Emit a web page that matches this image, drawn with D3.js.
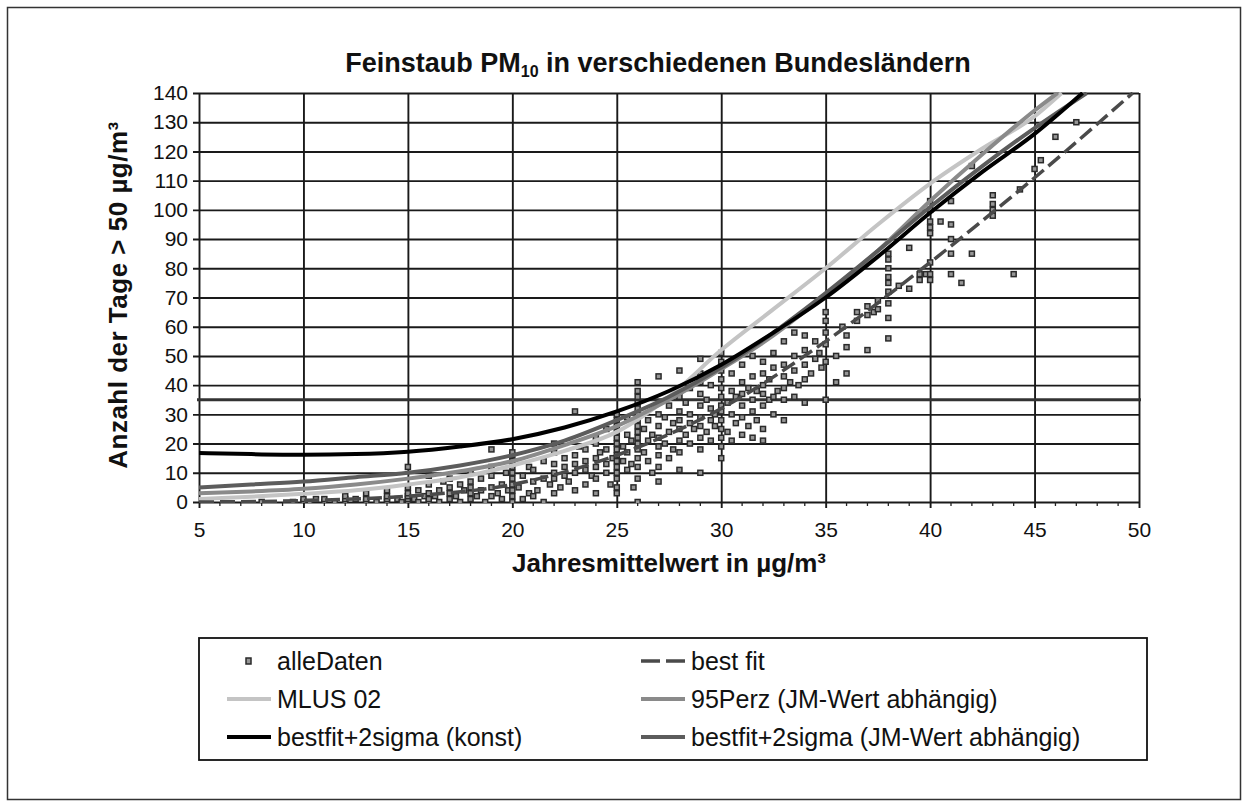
<!DOCTYPE html>
<html>
<head>
<meta charset="utf-8">
<script src="https://cdn.jsdelivr.net/npm/d3@7"></script>
<style>
body{margin:0;background:#fff;}
svg text{font-family:"Liberation Sans",Arial,sans-serif;fill:#111;}
</style>
</head>
<body>
<svg width="1249" height="807"></svg>
<script>
var xTicks = [5,10,15,20,25,30,35,40,45,50];
var yTicks = [0,10,20,30,40,50,60,70,80,90,100,110,120,130,140];
var limitLine = 35;

// curves: [Jahresmittelwert, Anzahl Tage]
var bestFit = [[5,0],[10,0.5],[15,2],[20,6],[25,16],[30,32],[35,55],[40,82],[45,111],[49.7,140]];
var mlus02 = [[5,1],[7.5,1.8],[10,2.8],[12.5,4],[15,6],[17.5,8.5],[20,12.5],[22.5,17.5],[25,24],[27.5,36],[30,52],[32.5,66],[35,80],[37.5,95],[40,109],[42.5,121],[45,132],[46.3,140]];
var perz95 = [[5,3],[7.5,3.6],[10,4.5],[12.5,6],[15,8],[17.5,10.5],[20,14],[22.5,19.5],[25,26],[27.5,35],[30,45.5],[32.5,57],[35,71],[37.5,86],[40,103],[42.5,119],[45,134],[46.1,140]];
var sigmaKonst = [[5,16.8],[7.5,16.4],[10,16.2],[12.5,16.4],[15,17.2],[17.5,19],[20,21.5],[22.5,25.5],[25,31],[27.5,38],[30,47],[32.5,58],[35,70],[37.5,84],[40,99],[42.5,113],[45,126],[47.3,140]];
var sigmaJM = [[5,5],[7.5,6],[10,7],[12.5,8.5],[15,10],[17.5,12.5],[20,16],[22.5,21],[25,28],[27.5,36],[30,46],[32.5,58],[35,71.5],[37.5,86],[40,101],[42.5,115],[45,128],[47.5,140]];

var alleDaten = [
[8,0],[9.5,0],[10,0],[10,1],[10.3,0],[10.6,1],[11,0],[11,1],[11.5,0],[12,0],[12,1],[12,2],[12.5,1],[13,0],[13,1],[13,3],[13.5,0],[14,0],[14,1],[14,2],[14,4],[14.5,1],[14.7,0],[15,0],[15,1],[15,2],[15,3],[15,5],[15,12],
[15.3,1],[15.5,0],[15.5,4],[15.8,2],[16,0],[16,1],[16,3],[16,6],[16,9],[16.3,2],[16.5,4],[16.5,0],[16.7,7],[17,1],[17,3],[17,5],[17,8],[17.3,2],[17.5,0],[17.5,6],[17.7,4],[18,1],[18,3],[18,5],[18,7],[18,10],[18.3,2],[18.5,4],[18.5,8],[18.7,0],[19,2],[19,5],[19,9],[19,12],[19,18],[19.3,3],[19.5,6],[19.5,1],[19.7,10],[19.8,4],
[20,0],[20,2],[20,4],[20,6],[20,8],[20,10],[20,12],[20,14],[20,16],[20,17],
[20.3,5],[20.5,1],[20.5,9],[20.8,3],[20.8,12],[21,2],[21,7],[21,11],[21.2,4],[21.5,0],[21.5,8],[21.5,14],[21.8,6],[22,3],[22,8],[22,10],[22,13],[22,17],[22,20],[22.3,5],[22.5,9],[22.5,12],[22.5,15],[22.7,7],[23,4],[23,10],[23,13],[23,16],[23,31],[23.2,19],[23.5,6],[23.5,11],[23.5,14],[23.5,18],[23.8,9],[24,3],[24,8],[24,12],[24,15],[24,20],[24,22],[24.2,17],[24.5,10],[24.5,13],[24.5,18],[24.5,25],[24.7,6],[24.8,15],
[25,3],[25,5],[25,8],[25,10],[25,12],[25,14],[25,16],[25,18],[25,20],[25,22],[25,24],[25,26],[25,28],[25,30],
[25.3,14],[25.3,19],[25.5,11],[25.5,17],[25.5,23],[25.5,29],[25.7,13],[25.7,21],[25.8,5],
[26,0],[26,8],[26,12],[26,15],[26,18],[26,20],[26,22],[26,24],[26,26],[26,28],[26,30],[26,32],[26,34],[26,36],[26,38],[26,41],
[26.3,17],[26.3,25],[26.5,14],[26.5,21],[26.5,28],[26.7,10],[26.7,23],[27,7],[27,12],[27,16],[27,19],[27,22],[27,26],[27,30],[27,43],[27.3,20],[27.3,29],[27.5,15],[27.5,24],[27.5,33],[27.7,18],[27.7,27],[28,11],[28,17],[28,21],[28,25],[28,28],[28,31],[28,36],[28,45],[28.3,23],[28.3,34],[28.5,20],[28.5,27],[28.5,30],[28.5,39],[28.7,25],[29,10],[29,18],[29,22],[29,26],[29,29],[29,33],[29,37],[29,41],[29,44],[29,49],[29.3,24],[29.3,35],[29.5,21],[29.5,28],[29.5,32],[29.5,40],[29.7,26],[29.7,30],
[30,15],[30,19],[30,22],[30,25],[30,28],[30,31],[30,33],[30,36],[30,39],[30,42],[30,45],[30,48],[30,51],
[30.3,24],[30.3,34],[30.5,21],[30.5,30],[30.5,38],[30.5,44],[30.7,27],[30.7,36],[31,23],[31,29],[31,33],[31,37],[31,41],[31,47],[31.3,26],[31.3,39],[31.5,22],[31.5,31],[31.5,35],[31.5,43],[31.5,50],[31.7,28],[31.7,38],[32,21],[32,25],[32,33],[32,37],[32,40],[32,44],[32,48],[32.3,35],[32.3,42],[32.5,30],[32.5,36],[32.5,46],[32.5,51],[32.7,38],[33,28],[33,35],[33,39],[33,43],[33,47],[33,55],[33.3,41],[33.5,36],[33.5,45],[33.5,50],[33.5,58],[33.7,40],[34,34],[34,42],[34,47],[34,52],[34,57],[34.3,44],[34.5,49],[34.5,55],[34.7,51],[34.8,46],
[35,35],[35,48],[35,54],[35,58],[35,62],[35,65],
[35.5,41],[35.5,50],[35.8,60],[36,44],[36,53],[36,57],[36.5,62],[36.5,65],[37,52],[37,64],[37,67],[37.3,65],[37.5,69],[37.5,66],[38,56],[38,63],[38,68],[38,72],[38,75],[38,77],[38,80],[38,83],[38,85],[38.5,74],[39,73],[39,87],[39.5,76],[39.5,78],[39.8,78],[40,76],[40,78],[40,82],[40,92],[40,94],[40,96],[40,100],[40,103],
[40.5,96],[41,78],[41,85],[41,90],[41,95],[41,103],[41.5,75],[42,85],[42,115],[43,98],[43,100],[43,102],[43,105],[44,78],[44.3,107],[45,114],[45.3,117],[46,125],[47,130]
];

var series = [
  {name:"best fit", data:bestFit, color:"#4a4a4a", width:3.5, dash:"15,6"},
  {name:"MLUS 02", data:mlus02, color:"#c4c4c4", width:4, dash:null},
  {name:"95Perz (JM-Wert abhängig)", data:perz95, color:"#8a8a8a", width:4, dash:null},
  {name:"bestfit+2sigma (konst)", data:sigmaKonst, color:"#000", width:4, dash:null},
  {name:"bestfit+2sigma (JM-Wert abhängig)", data:sigmaJM, color:"#5c5c5c", width:4, dash:null}
];

var svg = d3.select("svg");
var L = 199, R = 1139, T = 93, B = 502;
var x = d3.scaleLinear().domain([5,50]).range([L,R]);
var y = d3.scaleLinear().domain([0,140]).range([B,T]);

// outer frame
svg.append("rect").attr("x",7.5).attr("y",7.5).attr("width",1233).attr("height",792)
  .attr("fill","none").attr("stroke","#333").attr("stroke-width",1.5);

// title
var title = svg.append("text").attr("x",658).attr("y",72).attr("text-anchor","middle")
  .attr("font-size",27).attr("font-weight","bold");
title.append("tspan").text("Feinstaub PM");
title.append("tspan").attr("font-size",16).attr("dy",5).text("10");
title.append("tspan").attr("dy",-5).text(" in verschiedenen Bundesländern");

// y grid + axis
var yAxis = svg.append("g").attr("transform","translate("+L+",0)")
  .call(d3.axisLeft(y).tickValues(yTicks).tickSizeInner(-(R-L)).tickSizeOuter(0).tickPadding(11));
yAxis.select(".domain").remove();
yAxis.selectAll(".tick line").attr("x1",-6).attr("stroke","#1a1a1a").attr("stroke-width",1.9);
yAxis.selectAll(".tick text").attr("font-size",21).attr("fill","#111");

// x grid + axis
var xAxis = svg.append("g").attr("transform","translate(0,"+B+")")
  .call(d3.axisBottom(x).tickValues(xTicks).tickSizeInner(-(B-T)).tickSizeOuter(0).tickPadding(20));
xAxis.select(".domain").remove();
xAxis.selectAll(".tick line").attr("y1",6).attr("stroke","#1a1a1a").attr("stroke-width",1.9);
xAxis.selectAll(".tick text").attr("font-size",21).attr("fill","#111");

// minor ticks on x axis
svg.append("g").selectAll("line").data(d3.range(5,51,1).filter(d=>d%5!=0)).join("line")
  .attr("x1",d=>x(d)).attr("x2",d=>x(d)).attr("y1",B).attr("y2",B+4)
  .attr("stroke","#222").attr("stroke-width",1.3);

// limit line 35 days
svg.append("line").attr("x1",L-2).attr("x2",R+2).attr("y1",y(limitLine)).attr("y2",y(limitLine))
  .attr("stroke","#333").attr("stroke-width",2.8);

// axis titles
svg.append("text").attr("transform","translate(127,295) rotate(-90)")
  .attr("text-anchor","middle").attr("font-size",26).attr("font-weight","bold")
  .attr("letter-spacing",0.5).text("Anzahl der Tage > 50 µg/m³");
svg.append("text").attr("x",(L+R)/2).attr("y",572).attr("text-anchor","middle")
  .attr("font-size",26).attr("font-weight","bold").text("Jahresmittelwert in µg/m³");

// clip
svg.append("clipPath").attr("id","plotclip").append("rect")
  .attr("x",L).attr("y",T-1).attr("width",R-L).attr("height",B-T+2);

var plot = svg.append("g").attr("clip-path","url(#plotclip)");

// scatter
plot.append("g").selectAll("rect").data(alleDaten).join("rect")
  .attr("x",d=>x(d[0])-2.5).attr("y",d=>y(d[1])-2.5)
  .attr("width",5).attr("height",5)
  .attr("fill","#969696").attr("stroke","#2a2a2a").attr("stroke-width",1.5);

var line = d3.line().x(d=>x(d[0])).y(d=>y(d[1])).curve(d3.curveMonotoneX);
var drawOrder = [1,2,4,3,0];
drawOrder.forEach(function(i){
  var s = series[i];
  plot.append("path").datum(s.data).attr("d",line)
    .attr("fill","none").attr("stroke",s.color).attr("stroke-width",s.width)
    .attr("stroke-dasharray",s.dash);
});

// legend
var lg = svg.append("g");
lg.append("rect").attr("x",199).attr("y",638).attr("width",948).attr("height",122)
  .attr("fill","#fff").attr("stroke","#111").attr("stroke-width",1.8);

var legendItems = [
  {name:"alleDaten", col:0, row:0, marker:true},
  {name:"best fit", col:1, row:0, s:series[0]},
  {name:"MLUS 02", col:0, row:1, s:series[1]},
  {name:"95Perz (JM-Wert abhängig)", col:1, row:1, s:series[2]},
  {name:"bestfit+2sigma (konst)", col:0, row:2, s:series[3]},
  {name:"bestfit+2sigma (JM-Wert abhängig)", col:1, row:2, s:series[4]}
];
var colX = [227, 641], rowY = [661, 699, 737];
legendItems.forEach(function(it){
  var gx = colX[it.col], gy = rowY[it.row];
  if(it.marker){
    lg.append("rect").attr("x",gx+19).attr("y",gy-3).attr("width",5).attr("height",6)
      .attr("fill","#969696").attr("stroke","#2a2a2a").attr("stroke-width",1.5);
  } else {
    lg.append("line").attr("x1",gx).attr("x2",gx+44).attr("y1",gy).attr("y2",gy)
      .attr("stroke",it.s.color).attr("stroke-width",it.s.width)
      .attr("stroke-dasharray",it.s.dash ? "19,6" : null);
  }
  lg.append("text").attr("x",gx+50).attr("y",gy+9).attr("font-size",25).text(it.name);
});
</script>
</body>
</html>
